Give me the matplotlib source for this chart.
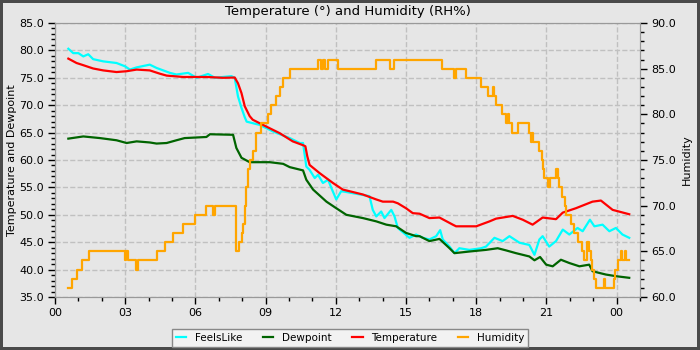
import matplotlib
matplotlib.use('Agg')
import matplotlib.pyplot as plt
from matplotlib.ticker import MultipleLocator, FormatStrFormatter

# hours since midnight
temp_h = [0.57, 0.92, 1.21, 1.63, 2.06, 2.63, 3.06, 3.49, 4.05, 4.48, 4.77, 5.48, 6.5, 7.18,
          7.68, 7.82, 7.97, 8.11, 8.32, 8.45, 9.03, 9.6, 10.16, 10.6, 10.7, 10.78, 10.88, 11.31,
          11.88, 12.3, 12.59, 13.16, 13.73, 14.01, 14.45, 14.65, 15.0, 15.29, 15.58, 16.0, 16.43,
          17.0, 17.14, 18.0, 18.57, 18.85, 19.42, 19.56, 19.99, 20.41, 20.84, 21.41, 21.7, 22.26,
          22.97, 23.33, 23.83, 24.54]
temperature = [78.5, 77.7, 77.3, 76.7, 76.35, 76.05, 76.2, 76.5, 76.35, 75.75, 75.4, 75.15, 75.15, 75.0,
               75.05, 74.0, 72.2, 69.8, 68.0, 67.35, 66.1, 64.9, 63.4, 62.7, 62.5, 60.7, 59.1, 57.6,
               55.8, 54.6, 54.3, 53.7, 52.8, 52.4, 52.4, 52.1, 51.2, 50.3, 50.2, 49.4, 49.5,
               48.2, 47.9, 47.9, 48.8, 49.3, 49.7, 49.8, 49.1, 48.2, 49.5, 49.2, 50.4, 51.2,
               52.4, 52.6, 50.9, 50.1]

feels_h = [0.57, 0.78, 1.0, 1.21, 1.42, 1.63, 2.06, 2.63, 2.99, 3.2, 3.49, 4.05, 4.34, 4.91,
           5.19, 5.69, 6.05, 6.54, 6.83, 7.54, 7.68, 7.82, 7.97, 8.11, 8.19, 8.75, 9.32, 10.03,
           10.46, 10.6, 10.74, 10.88, 11.1, 11.24, 11.45, 11.67, 11.81, 12.02, 12.23, 12.4, 13.44,
           13.58, 13.73, 13.94, 14.08, 14.37, 14.51, 14.65, 15.15, 15.43, 15.72, 16.0, 16.29,
           16.46, 16.57, 16.86, 17.07, 17.28, 17.71, 18.21, 18.42, 18.78, 19.13, 19.42, 19.85,
           20.27, 20.49, 20.7, 20.84, 21.12, 21.41, 21.7, 21.98, 22.33, 22.55, 22.86, 23.05,
           23.4, 23.69, 23.97, 24.25, 24.54]
feels_like = [80.3, 79.5, 79.5, 78.9, 79.3, 78.4, 78.0, 77.7, 77.1, 76.5, 76.9, 77.4, 76.8, 75.9,
              75.6, 75.9, 75.0, 75.7, 75.0, 75.3, 75.0, 71.6, 69.5, 67.8, 67.0, 66.4, 65.2, 64.0,
              63.1, 63.1, 58.8, 58.2, 56.7, 57.3, 55.8, 56.4, 54.9, 52.8, 54.3, 54.2, 53.4,
              50.9, 49.7, 50.6, 49.4, 50.9, 49.7, 47.6, 45.8, 46.4, 45.8, 45.5, 46.1,
              47.2, 45.5, 44.2, 43.0, 43.9, 43.6, 43.9, 44.2, 45.8, 45.2, 46.1, 44.9,
              44.5, 42.7, 45.5, 46.1, 44.2, 45.2, 47.3, 46.4, 47.6, 47.0, 49.1, 47.9,
              48.2, 47.0, 47.6, 46.4, 45.8]

dew_h = [0.57, 1.21, 1.92, 2.63, 3.06, 3.49, 4.05, 4.34, 4.77, 5.19, 5.54, 6.47, 6.62, 7.61,
         7.75, 7.97, 8.32, 9.18, 9.75, 10.03, 10.6, 10.74, 11.03, 11.6, 12.02, 12.45, 13.16,
         13.73, 14.16, 14.58, 15.0, 15.43, 15.58, 16.0, 16.43, 16.86, 17.07, 17.71, 18.42, 18.92,
         19.28, 19.7, 20.27, 20.49, 20.73, 20.99, 21.27, 21.62, 21.98, 22.41, 22.83, 22.97,
         23.54, 23.97, 24.54]
dewpoint = [63.9, 64.3, 64.0, 63.6, 63.1, 63.4, 63.2, 63.0, 63.1, 63.6, 64.0, 64.2, 64.7, 64.6,
            62.2, 60.4, 59.6, 59.6, 59.3, 58.7, 58.1, 56.4, 54.6, 52.4, 51.2, 50.0, 49.4,
            48.8, 48.2, 47.9, 46.7, 46.1, 46.1, 45.2, 45.6, 43.9, 43.0, 43.3, 43.6, 43.9,
            43.5, 43.0, 42.4, 41.7, 42.3, 40.9, 40.6, 41.8, 41.2, 40.6, 40.9, 39.7,
            39.1, 38.8, 38.5]

hum_h = [0.57, 0.71, 0.92, 1.14, 1.46, 3.0, 3.05, 3.1, 3.45, 3.55, 4.34, 4.69, 5.05, 5.48,
         5.97, 6.47, 6.75, 6.82, 7.75, 7.85, 8.0, 8.05, 8.1, 8.17, 8.25, 8.32, 8.46, 8.6, 8.82,
         9.1, 9.25, 9.46, 9.6, 9.75, 10.03, 11.25, 11.35, 11.45, 11.55, 11.65, 12.09, 13.73,
         14.3, 14.5, 16.55, 17.05, 17.12, 17.57, 18.21, 18.49, 18.72, 18.78, 18.85, 19.1, 19.28,
         19.35, 19.4, 19.53, 19.78, 20.24, 20.33, 20.38, 20.41, 20.7, 20.8, 20.85, 20.91, 21.05,
         21.15, 21.41, 21.48, 21.55, 21.65, 21.78, 21.83, 22.05, 22.2, 22.35, 22.5, 22.6, 22.72,
         22.8, 22.9, 22.97, 23.05, 23.12, 23.45, 23.52, 23.88, 23.92, 24.04, 24.17, 24.23, 24.35,
         24.42, 24.54]
humidity = [61, 62, 63, 64, 65, 64, 65, 64, 63, 64, 65, 66, 67, 68,
            69, 70, 69, 70, 65, 66, 67, 68, 70, 72, 74, 75, 76, 78, 79,
            80, 81, 82, 83, 84, 85, 86, 85, 86, 85, 86, 85, 86,
            85, 86, 85, 84, 85, 84, 83, 82, 83, 82, 81, 80, 79,
            80, 79, 78, 79, 78, 77, 78, 77, 76, 75, 74, 73, 72,
            73, 74, 73, 72, 71, 70, 69, 68, 67, 66, 65, 64, 66,
            65, 64, 63, 62, 61, 62, 61, 62, 63, 64, 65, 64, 65,
            64, 64]

hour_ticks = [0, 3, 6, 9, 12, 15, 18, 21, 24]
hour_labels = ['00', '03', '06', '09', '12', '15', '18', '21', '00']

bg = '#e6e6e6'
fig = plt.figure(figsize=(7, 3.5), dpi=100, facecolor=bg)
fig.patch.set_edgecolor('#4a4a4a')
fig.patch.set_linewidth(4)

ax = fig.add_axes([55 / 700, 53 / 350, 585 / 700, 274 / 350])
ax.set_facecolor(bg)
ax2 = ax.twinx()

l1, = ax.plot(feels_h, feels_like, color='#00ffff', lw=1.6, label='FeelsLike')
l2, = ax.plot(dew_h, dewpoint, color='#006400', lw=1.6, label='Dewpoint')
l3, = ax.plot(temp_h, temperature, color='#ff0000', lw=1.6, label='Temperature')
l4, = ax2.plot(hum_h, humidity, color='#ffa500', lw=1.6, drawstyle='steps-post', label='Humidity')

ax.set_xlim(0, 25)
ax.set_ylim(35, 85)
ax2.set_ylim(60, 90)

ax.set_xticks(hour_ticks)
ax.set_xticklabels(hour_labels)
ax.xaxis.set_minor_locator(MultipleLocator(1))
ax.yaxis.set_major_locator(MultipleLocator(5))
ax.yaxis.set_minor_locator(MultipleLocator(1))
ax.yaxis.set_major_formatter(FormatStrFormatter('%.1f'))
ax2.yaxis.set_major_locator(MultipleLocator(5))
ax2.yaxis.set_minor_locator(MultipleLocator(1))
ax2.yaxis.set_major_formatter(FormatStrFormatter('%.1f'))

for a in (ax, ax2):
    a.tick_params(which='major', length=5, width=1, labelsize=8, colors='black', pad=3)
    a.tick_params(which='minor', length=3, width=1)
    for s in a.spines.values():
        s.set_color('#999999')

ax.grid(True, which='major', linestyle='--', color='#c0c0c0', lw=1)
ax.set_axisbelow(True)

ax.set_ylabel('Temperature and Dewpoint', fontsize=8)
ax.yaxis.set_label_coords(-0.065, 0.5)
ax2.set_ylabel('Humidity', fontsize=8)
ax2.yaxis.set_label_coords(1.072, 0.5)
ax.set_title('Temperature (°) and Humidity (RH%)', fontsize=9.5, pad=6)

leg = fig.legend([l1, l2, l3, l4], ['FeelsLike', 'Dewpoint', 'Temperature', 'Humidity'],
                 loc='lower center', bbox_to_anchor=(0.5, 0.0), ncol=4, fontsize=7.5,
                 handlelength=1.0, columnspacing=2.0, fancybox=False, framealpha=1,
                 borderaxespad=0.3)
leg.get_frame().set_facecolor('#f2f2f2')
leg.get_frame().set_edgecolor('#888888')

fig.savefig('out.png', dpi=100, facecolor=fig.get_facecolor(), edgecolor=fig.patch.get_edgecolor())
